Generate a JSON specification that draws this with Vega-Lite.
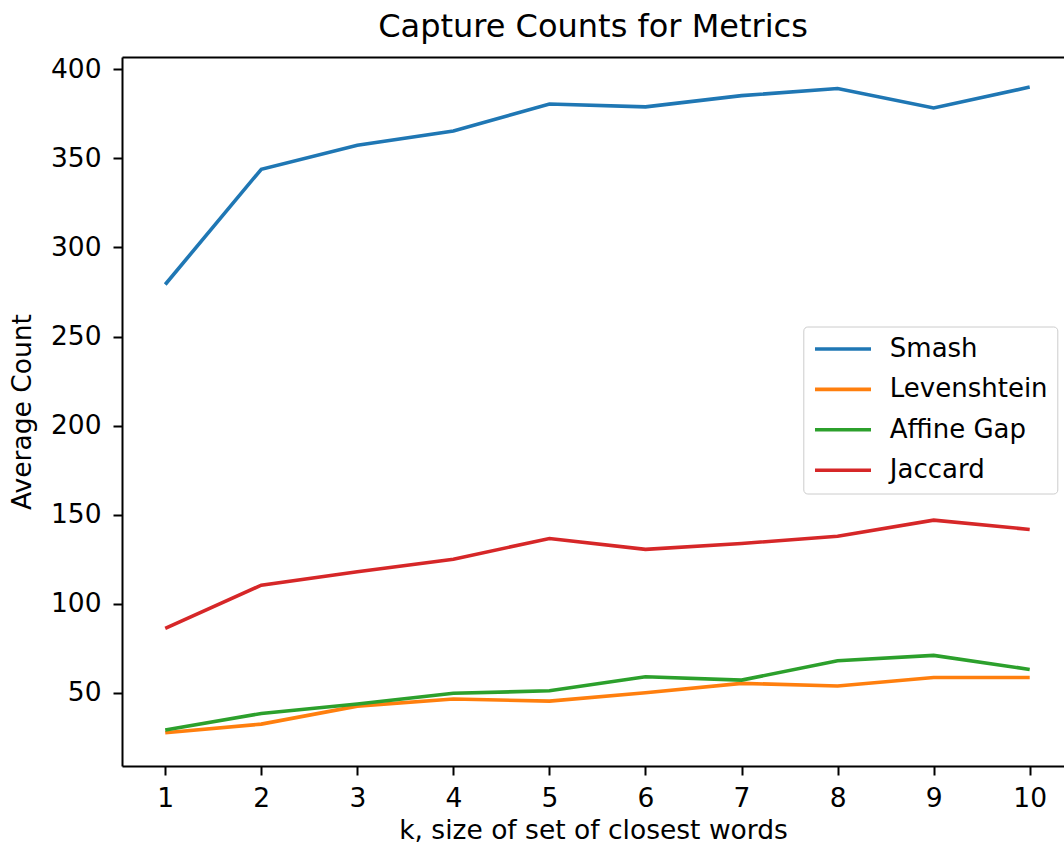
{
  "$schema": "https://vega.github.io/schema/vega-lite/v6.json",
  "autosize": {"type": "none"},
  "padding": {"left": 122, "top": 57, "right": 0, "bottom": 79},
  "width": 942,
  "height": 709,
  "background": "white",
  "title": {"text": "Capture Counts for Metrics", "font": "DejaVu Sans", "fontSize": 32, "fontWeight": "normal", "color": "black", "anchor": "middle", "baseline": "alphabetic", "offset": -13, "frame": "group"},
  "config": {
    "view": {"stroke": null},
    "axis": {"labelFont": "DejaVu Sans", "titleFont": "DejaVu Sans", "labelFontSize": 26.5, "titleFontSize": 26.5, "titleFontWeight": "normal", "labelColor": "black", "titleColor": "black", "domainColor": "black", "domainWidth": 2, "tickColor": "black", "tickWidth": 2, "tickSize": 9, "grid": false}
  },
  "data": {"values": [
    {"k": 1, "metric": "Smash", "count": 279.2},
    {"k": 2, "metric": "Smash", "count": 343.9},
    {"k": 3, "metric": "Smash", "count": 357.4},
    {"k": 4, "metric": "Smash", "count": 365.4},
    {"k": 5, "metric": "Smash", "count": 380.5},
    {"k": 6, "metric": "Smash", "count": 378.9},
    {"k": 7, "metric": "Smash", "count": 385.2},
    {"k": 8, "metric": "Smash", "count": 389.2},
    {"k": 9, "metric": "Smash", "count": 378.3},
    {"k": 10, "metric": "Smash", "count": 390.0},
    {"k": 1, "metric": "Levenshtein", "count": 27.6},
    {"k": 2, "metric": "Levenshtein", "count": 32.4},
    {"k": 3, "metric": "Levenshtein", "count": 42.5},
    {"k": 4, "metric": "Levenshtein", "count": 46.5},
    {"k": 5, "metric": "Levenshtein", "count": 45.3},
    {"k": 6, "metric": "Levenshtein", "count": 50.0},
    {"k": 7, "metric": "Levenshtein", "count": 55.3},
    {"k": 8, "metric": "Levenshtein", "count": 53.8},
    {"k": 9, "metric": "Levenshtein", "count": 58.6},
    {"k": 10, "metric": "Levenshtein", "count": 58.6},
    {"k": 1, "metric": "Affine Gap", "count": 29.1},
    {"k": 2, "metric": "Affine Gap", "count": 38.4},
    {"k": 3, "metric": "Affine Gap", "count": 43.7},
    {"k": 4, "metric": "Affine Gap", "count": 49.7},
    {"k": 5, "metric": "Affine Gap", "count": 51.1},
    {"k": 6, "metric": "Affine Gap", "count": 59.0},
    {"k": 7, "metric": "Affine Gap", "count": 57.1},
    {"k": 8, "metric": "Affine Gap", "count": 68.0},
    {"k": 9, "metric": "Affine Gap", "count": 71.0},
    {"k": 10, "metric": "Affine Gap", "count": 63.1},
    {"k": 1, "metric": "Jaccard", "count": 86.1},
    {"k": 2, "metric": "Jaccard", "count": 110.4},
    {"k": 3, "metric": "Jaccard", "count": 117.9},
    {"k": 4, "metric": "Jaccard", "count": 125.0},
    {"k": 5, "metric": "Jaccard", "count": 136.6},
    {"k": 6, "metric": "Jaccard", "count": 130.5},
    {"k": 7, "metric": "Jaccard", "count": 133.8},
    {"k": 8, "metric": "Jaccard", "count": 137.9},
    {"k": 9, "metric": "Jaccard", "count": 146.9},
    {"k": 10, "metric": "Jaccard", "count": 141.7}
  ]},
  "resolve": {"axis": {"x": "independent"}},
  "layer": [
    {
      "mark": {"type": "line", "strokeWidth": 3.6, "clip": false},
      "encoding": {
        "x": {"field": "k", "type": "quantitative", "scale": {"domain": [0.55, 10.357], "nice": false, "zero": false},
              "axis": {"values": [1,2,3,4,5,6,7,8,9,10], "title": "k, size of set of closest words", "labelPadding": 10, "titlePadding": 6, "labelFlush": false, "labelOverlap": false}},
        "y": {"field": "count", "type": "quantitative", "scale": {"domain": [8.9, 406.9], "nice": false, "zero": false},
              "axis": {"values": [50,100,150,200,250,300,350,400], "title": "Average Count", "labelPadding": 12, "titlePadding": 14, "labelFlush": false, "labelOverlap": false}},
        "color": {"field": "metric", "type": "nominal",
                  "scale": {"domain": ["Smash", "Levenshtein", "Affine Gap", "Jaccard"], "range": ["#1f77b4", "#ff7f0e", "#2ca02c", "#d62728"]},
                  "legend": {"orient": "none", "legendX": 681.3, "legendY": 269.5, "title": null, "padding": 9.5, "fillColor": "white", "strokeColor": "#cccccc", "cornerRadius": 4,
                             "symbolType": "M-1.08,0L4.52,0", "symbolSize": 400, "symbolStrokeWidth": 3.6, "labelOffset": 51, "labelFontSize": 26, "labelFont": "DejaVu Sans", "labelColor": "black", "rowPadding": 14.4, "labelLimit": 400}}
      }
    },
    {
      "mark": {"type": "line", "opacity": 0},
      "encoding": {
        "x": {"field": "k", "type": "quantitative", "axis": {"orient": "top", "labels": false, "ticks": false, "title": null, "domain": true}},
        "y": {"field": "count", "type": "quantitative"},
        "detail": {"field": "metric"}
      }
    }
  ]
}
